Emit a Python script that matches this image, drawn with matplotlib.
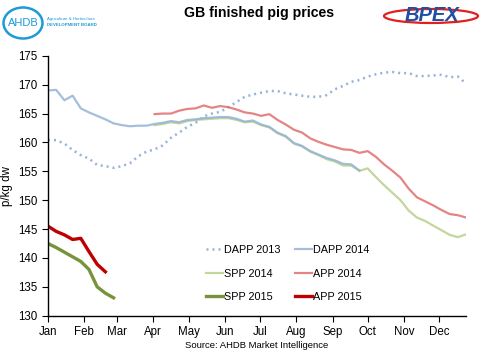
#!/usr/bin/env python3

"""GB finished pig prices: weekly DAPP/SPP/APP series, 2013-2015."""

import matplotlib

matplotlib.use("Agg")
import matplotlib.dates as mdates
import matplotlib.pyplot as plt
import pandas as pd
from matplotlib.patches import Ellipse

plt.rcParams["font.family"] = ["Liberation Sans", "DejaVu Sans"]

# weekly points on a common calendar year (week 0 = 1 Jan)
weeks = pd.date_range("2014-01-01", periods=52, freq="7D")

dapp_2013 = [
    160.4, 160.4, 159.8, 158.7, 157.8, 157.2, 156.1, 155.9, 155.6, 155.9,
    156.4, 157.6, 158.4, 158.8, 159.5, 160.8, 161.7, 162.7, 163.4, 164.5,
    165.0, 165.3, 166.1, 167.0, 167.9, 168.3, 168.6, 168.9, 168.9, 168.5,
    168.3, 168.1, 167.9, 167.9, 168.2, 169.2, 169.8, 170.5, 170.8, 171.4,
    171.8, 172.1, 172.2, 172.0, 172.0, 171.5, 171.5, 171.6, 171.7, 171.3,
    171.4, 170.2,
]
dapp_2014 = [
    169.0, 169.1, 167.3, 168.1, 165.9, 165.2, 164.6, 164.0, 163.3, 163.0,
    162.8, 162.9, 162.9, 163.2, 163.4, 163.7, 163.5, 163.9, 164.0, 164.2,
    164.3, 164.4, 164.4, 164.1, 163.6, 163.8, 163.1, 162.7, 161.7, 161.1,
    159.9, 159.4, 158.5, 157.9, 157.3, 156.9, 156.3, 156.2, 155.1,
]
spp_2014_start = 13
spp_2014 = [
    163.0, 163.2, 163.5, 163.3, 163.7, 163.9, 164.0, 164.1, 164.2, 164.2,
    163.9, 163.5, 163.6, 163.0, 162.6, 161.6, 161.0, 159.8, 159.3, 158.4,
    157.8, 157.1, 156.7, 156.0, 156.0, 155.1, 155.5, 154.0, 152.6, 151.3,
    150.0, 148.2, 147.0, 146.4, 145.6, 144.8, 144.0, 143.6, 144.1,
]
app_2014_start = 13
app_2014 = [
    164.9, 165.0, 165.0, 165.5, 165.8, 165.9, 166.4, 166.0, 166.3, 166.1,
    165.7, 165.2, 165.0, 164.6, 164.9, 163.9, 163.1, 162.2, 161.7,
    160.7, 160.1, 159.6, 159.2, 158.8, 158.7, 158.2, 158.5, 157.5, 156.2,
    155.1, 153.9, 152.0, 150.5, 149.8, 149.1, 148.3, 147.6, 147.4, 147.0,
]
spp_2015 = [142.5, 141.8, 141.0, 140.2, 139.4, 138.0, 135.0, 133.9, 133.1]
app_2015 = [145.5, 144.6, 144.0, 143.2, 143.4, 141.1, 138.9, 137.6]

yticks = [130, 135, 140, 145, 150, 155, 160, 165, 170, 175]


def main() -> None:
    fig = plt.figure(figsize=(4.8, 3.6), dpi=100)
    ax = fig.add_axes([0.1, 0.123, 0.871, 0.722])

    ax.plot(weeks[: len(dapp_2013)], dapp_2013, color="#95B3D7", lw=1.8,
            linestyle=(0, (0.8, 1.6)), label="DAPP 2013")
    ax.plot(weeks[spp_2014_start: spp_2014_start + len(spp_2014)], spp_2014,
            color="#C3D69B", lw=1.6, label="SPP 2014")
    ax.plot(weeks[: len(dapp_2014)], dapp_2014, color="#95B3D7", lw=1.6,
            label="DAPP 2014", alpha=0.85)
    ax.plot(weeks[app_2014_start: app_2014_start + len(app_2014)], app_2014,
            color="#E06F6F", lw=1.6, alpha=0.85, label="APP 2014")
    ax.plot(weeks[: len(spp_2015)], spp_2015, color="#77933C", lw=2.4,
            label="SPP 2015")
    ax.plot(weeks[: len(app_2015)], app_2015, color="#C00000", lw=2.4,
            label="APP 2015")

    ax.set_xlim(weeks[0], weeks[-1])
    ax.set_ylim(yticks[0], yticks[-1])
    ax.set_yticks(yticks)
    ax.xaxis.set_major_locator(mdates.MonthLocator())
    ax.xaxis.set_major_formatter(mdates.DateFormatter("%b"))
    ax.tick_params(axis="both", labelsize=8.3, length=4, width=0.8,
                   direction="out", colors="black")
    ax.set_ylabel("p/kg dw", fontsize=8.3, labelpad=4)

    for side in ("top", "right"):
        ax.spines[side].set_visible(False)
    for side in ("left", "bottom"):
        ax.spines[side].set_linewidth(1.0)

    handles, labels = ax.get_legend_handles_labels()
    order = ["DAPP 2013", "SPP 2014", "SPP 2015",
             "DAPP 2014", "APP 2014", "APP 2015"]
    by_label = dict(zip(labels, handles))
    ax.legend([by_label[k] for k in order], order, ncol=2, frameon=False,
              fontsize=7.8, loc="lower left", bbox_to_anchor=(0.354, 0.015),
              handlelength=1.6, handletextpad=0.1, columnspacing=1.32,
              labelspacing=1.25)

    fig.text(0.54, 1 - 13 / 360, "GB finished pig prices", ha="center",
             va="center", fontsize=10.2, fontweight="bold")
    fig.text(0.535, 0.04, "Source: AHDB Market Intelligence", ha="center",
             va="center", fontsize=6.8)

    # AHDB logo
    fig.add_artist(Ellipse((23 / 480, 1 - 23 / 360), 39 / 480, 31 / 360,
                           transform=fig.transFigure, fill=False,
                           edgecolor="#1E9BD7", lw=1.8))
    fig.text(23 / 480, 1 - 23 / 360, "AHDB", ha="center", va="center",
             color="#1E9BD7", fontsize=8)
    fig.text(47 / 480, 1 - 19 / 360, "Agriculture & Horticulture",
             ha="left", va="center", color="#1E9BD7", fontsize=3.2)
    fig.text(47 / 480, 1 - 25 / 360, "DEVELOPMENT BOARD",
             ha="left", va="center", color="#1E9BD7", fontsize=3.2,
             fontweight="bold")

    # BPEX logo
    fig.add_artist(Ellipse((431 / 480, 1 - 16 / 360), 94 / 480, 14 / 360,
                           transform=fig.transFigure, fill=False,
                           edgecolor="#E02020", lw=1.6))
    fig.text(432 / 480, 1 - 15.5 / 360, "BPEX", ha="center", va="center",
             color="#1F4FA0", fontsize=14.5, fontweight="bold",
             fontstyle="italic")

    fig.savefig("out.png", dpi=100)


if __name__ == "__main__":
    main()
